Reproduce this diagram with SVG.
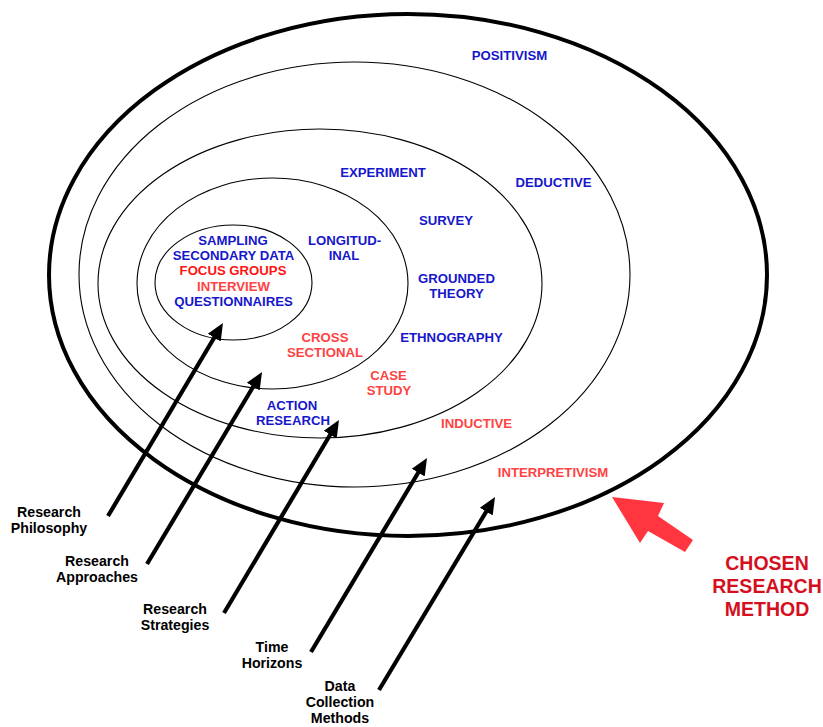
<svg xmlns="http://www.w3.org/2000/svg" width="823" height="727" viewBox="0 0 823 727">
<defs>
<style>
.ring{fill:none;stroke:#000;stroke-width:1.1}
.outer{fill:none;stroke:#000;stroke-width:4}
.lb{font-family:"Liberation Sans",Arial,sans-serif;font-weight:bold;font-size:13.6px;text-anchor:middle}
.bl{fill:#1616CC}
.rd{fill:#FF4242}
.rr{fill:#FF1414}
.bk{fill:#000;font-size:14.2px}
.cr{fill:#D5101E;font-size:19.5px}
.arr{stroke:#000;stroke-width:4.2;fill:none;marker-end:url(#ah)}
</style>
<marker id="ah" markerUnits="userSpaceOnUse" markerWidth="20" markerHeight="18" viewBox="0 -9 20 18" refX="3" refY="0" orient="auto">
<path d="M0,-7.5 L17,0 L0,7.5 z" fill="#000"/>
</marker>
</defs>
<rect width="823" height="727" fill="#fff"/>
<g id="ring-philosophy"><ellipse class="outer" cx="408" cy="275" rx="359" ry="261"/></g>
<g id="ring-approaches"><ellipse class="ring" cx="354.5" cy="274.5" rx="275.5" ry="212.5"/></g>
<g id="ring-strategies"><ellipse class="ring" cx="320" cy="283.5" rx="222" ry="154.5"/></g>
<g id="ring-time"><ellipse class="ring" cx="272.5" cy="283.5" rx="135.5" ry="105.5"/></g>
<g id="ring-data"><ellipse class="ring" cx="233.5" cy="282.5" rx="78.5" ry="57.5"/></g>
<g id="connectors">
<line class="arr" x1="108" y1="516" x2="215.8" y2="335"/>
<line class="arr" x1="147" y1="564" x2="254.8" y2="384"/>
<line class="arr" x1="224" y1="613" x2="331.8" y2="432"/>
<line class="arr" x1="311" y1="652" x2="419.8" y2="470"/>
<line class="arr" x1="379" y1="690" x2="487.8" y2="509"/>
</g>
<g id="chosen-arrow"><polygon points="612,497 664,503 658,516 693,540 685,552 648,531 640,543" fill="#FF3640"/></g>
<g id="labels-data">
<text class="lb bl" transform="translate(233,245) scale(0.97,1)">SAMPLING</text>
<text class="lb bl" transform="translate(233.5,260) scale(0.97,1)">SECONDARY DATA</text>
<text class="lb rr" transform="translate(233,275) scale(0.97,1)">FOCUS GROUPS</text>
<text class="lb rd" transform="translate(233.5,291) scale(0.97,1)">INTERVIEW</text>
<text class="lb bl" transform="translate(233.5,306) scale(0.97,1)">QUESTIONNAIRES</text>
</g>
<g id="labels-time">
<text class="lb bl" transform="translate(344.5,245) scale(0.97,1)">LONGITUD-</text>
<text class="lb bl" transform="translate(344,260) scale(0.97,1)">INAL</text>
<text class="lb rd" transform="translate(325,342) scale(0.97,1)">CROSS</text>
<text class="lb rd" transform="translate(325,357) scale(0.97,1)">SECTIONAL</text>
</g>
<g id="labels-strategies">
<text class="lb bl" transform="translate(383,177) scale(0.97,1)">EXPERIMENT</text>
<text class="lb bl" transform="translate(446,225) scale(0.97,1)">SURVEY</text>
<text class="lb bl" transform="translate(456.5,283) scale(0.97,1)">GROUNDED</text>
<text class="lb bl" transform="translate(456.5,298) scale(0.97,1)">THEORY</text>
<text class="lb bl" transform="translate(451.5,342) scale(0.97,1)">ETHNOGRAPHY</text>
<text class="lb rd" transform="translate(388.5,380) scale(0.97,1)">CASE</text>
<text class="lb rd" transform="translate(389,395) scale(0.97,1)">STUDY</text>
<text class="lb bl" transform="translate(292,410) scale(0.97,1)">ACTION</text>
<text class="lb bl" transform="translate(293,425) scale(0.97,1)">RESEARCH</text>
</g>
<g id="labels-approaches">
<text class="lb bl" transform="translate(553.5,187) scale(0.97,1)">DEDUCTIVE</text>
<text class="lb rd" transform="translate(476.5,428) scale(0.97,1)">INDUCTIVE</text>
</g>
<g id="labels-philosophy">
<text class="lb bl" transform="translate(509.5,60) scale(0.97,1)">POSITIVISM</text>
<text class="lb rd" transform="translate(553,477) scale(0.97,1)">INTERPRETIVISM</text>
</g>
<g id="caption-philosophy">
<text class="lb bk" x="49" y="517">Research</text>
<text class="lb bk" x="49" y="533">Philosophy</text>
</g>
<g id="caption-approaches">
<text class="lb bk" x="97" y="566">Research</text>
<text class="lb bk" x="97" y="582">Approaches</text>
</g>
<g id="caption-strategies">
<text class="lb bk" x="175" y="614">Research</text>
<text class="lb bk" x="175" y="630">Strategies</text>
</g>
<g id="caption-time">
<text class="lb bk" x="272" y="652">Time</text>
<text class="lb bk" x="272" y="668">Horizons</text>
</g>
<g id="caption-data">
<text class="lb bk" x="340" y="691">Data</text>
<text class="lb bk" x="340" y="707">Collection</text>
<text class="lb bk" x="340" y="723">Methods</text>
</g>
<g id="chosen-label">
<text class="lb cr" x="767" y="570">CHOSEN</text>
<text class="lb cr" x="767" y="593">RESEARCH</text>
<text class="lb cr" x="767" y="616">METHOD</text>
</g>
</svg>
